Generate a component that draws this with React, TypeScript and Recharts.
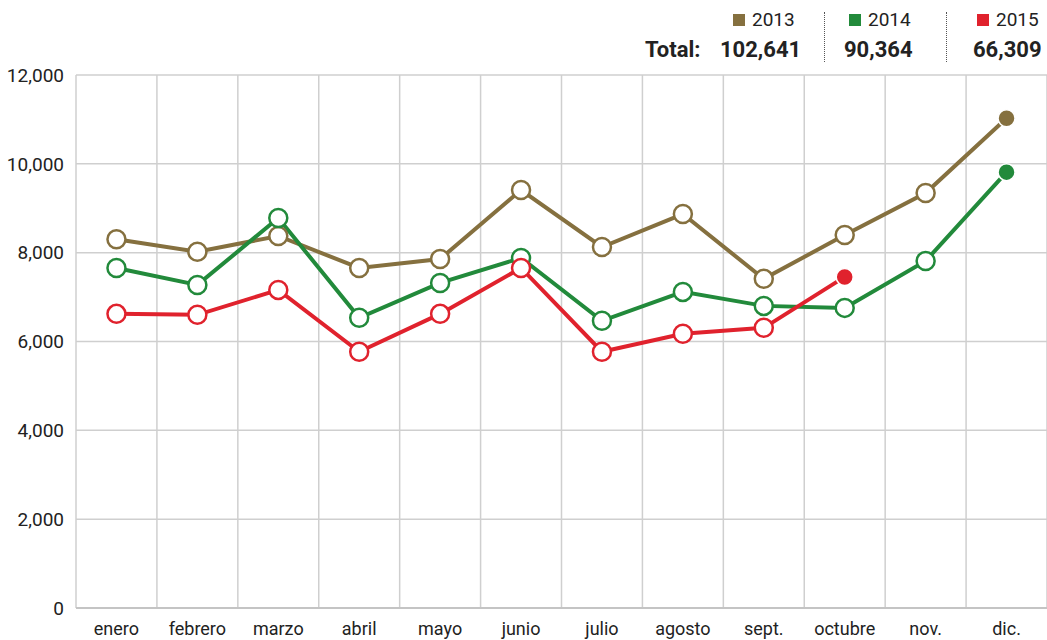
import React from 'react';
import { LineChart, Line, XAxis, YAxis, CartesianGrid } from 'recharts';

const months = ['enero', 'febrero', 'marzo', 'abril', 'mayo', 'junio', 'julio', 'agosto', 'sept.', 'octubre', 'nov.', 'dic.'];
const s2013 = [8300, 8020, 8375, 7656, 7858, 9410, 8128, 8870, 7410, 8398, 9342, 11027];
const s2014 = [7656, 7274, 8780, 6533, 7319, 7881, 6465, 7117, 6802, 6757, 7813, 9813];
const s2015 = [6622, 6600, 7162, 5769, 6622, 7656, 5769, 6173, 6308, 7454, null, null];
const yTicks = [0, 2000, 4000, 6000, 8000, 10000, 12000];
const totals = { y2013: '102,641', y2014: '90,364', y2015: '66,309' };

const COLORS = { y2013: '#85703f', y2014: '#228a3b', y2015: '#e0222d' };
const FONT = 'Roboto, "Noto Sans", sans-serif';

const data = months.map((m, i) => ({
  pos: i + 0.5,
  month: m,
  y2013: s2013[i],
  y2014: s2014[i],
  y2015: s2015[i],
}));

const lastIndex = (arr: (number | null)[]) => {
  let k = -1;
  arr.forEach((v, i) => {
    if (v != null) k = i;
  });
  return k;
};

const makeDot = (color: string, series: (number | null)[]) => {
  const last = lastIndex(series);
  return (props: any) => {
    const { cx, cy, index, value } = props;
    if (value == null || cx == null || cy == null) return <g key={`d-${index}`} />;
    if (index === last) {
      return <circle key={`d-${index}`} cx={cx} cy={cy} r={8.5} fill={color} stroke="#fff" strokeWidth={1.5} />;
    }
    return <circle key={`d-${index}`} cx={cx} cy={cy} r={9} fill="#fff" stroke={color} strokeWidth={2.5} />;
  };
};

// band edges, used only for the vertical grid lines
const gridTicks = months.map((_, i) => i).concat([months.length]);

function Legend() {
  const year = { position: 'absolute' as const, top: 8, fontSize: 19, color: '#222', fontFamily: FONT, lineHeight: '24px' };
  const total = { position: 'absolute' as const, top: 36, fontSize: 22, fontWeight: 700, color: '#222', fontFamily: FONT, lineHeight: '28px' };
  const sq = (c: string) => (
    <span style={{ display: 'inline-block', width: 12, height: 12, background: c, marginRight: 7, verticalAlign: 0 }} />
  );
  const sep = { position: 'absolute' as const, top: 12, height: 50, width: 0, borderLeft: '1.5px dotted #555' };
  return (
    <>
      <div style={{ ...year, left: 733 }}>{sq(COLORS.y2013)}2013</div>
      <div style={{ ...year, left: 849 }}>{sq(COLORS.y2014)}2014</div>
      <div style={{ ...year, left: 977 }}>{sq(COLORS.y2015)}2015</div>
      <div style={{ ...total, left: 645 }}>Total:</div>
      <div style={{ ...total, left: 720 }}>{totals.y2013}</div>
      <div style={{ ...total, left: 844 }}>{totals.y2014}</div>
      <div style={{ ...total, left: 973 }}>{totals.y2015}</div>
      <div style={{ ...sep, left: 824 }} />
      <div style={{ ...sep, left: 946 }} />
    </>
  );
}

export default function App() {
  return (
    <div style={{ position: 'absolute', left: 0, top: 0, width: 1047, height: 640, background: '#fff', overflow: 'hidden' }}>
      <LineChart width={1047} height={640} data={data} margin={{ top: 75, right: 0, bottom: 0, left: 0 }}>
        <XAxis xAxisId="grid" orientation="top" type="number" dataKey="pos" domain={[0, 12]} ticks={gridTicks} height={0} hide />
        <XAxis
          xAxisId="main"
          type="number"
          dataKey="pos"
          domain={[0, 12]}
          ticks={data.map((d) => d.pos)}
          tickFormatter={(v: number) => months[Math.floor(v)]}
          interval={0}
          height={32}
          axisLine={{ stroke: '#c4c4c4', strokeWidth: 2 }}
          tickLine={false}
          tickMargin={8}
          tick={{ fontSize: 18, fill: '#222', fontFamily: FONT }}
        />
        <YAxis
          domain={[0, 12000]}
          ticks={yTicks}
          width={76}
          axisLine={false}
          tickLine={false}
          tickMargin={6}
          tickFormatter={(v: number) => v.toLocaleString('en-US')}
          tick={{ fontSize: 19, fill: '#222', fontFamily: FONT }}
        />
        <CartesianGrid xAxisId="grid" stroke="#cfcfcf" strokeWidth={1.5} />
        <Line xAxisId="main" dataKey="y2013" stroke={COLORS.y2013} strokeWidth={4} dot={makeDot(COLORS.y2013, s2013)} isAnimationActive={false} />
        <Line xAxisId="main" dataKey="y2014" stroke={COLORS.y2014} strokeWidth={4} dot={makeDot(COLORS.y2014, s2014)} isAnimationActive={false} />
        <Line xAxisId="main" dataKey="y2015" stroke={COLORS.y2015} strokeWidth={4} dot={makeDot(COLORS.y2015, s2015)} isAnimationActive={false} />
      </LineChart>
      <Legend />
    </div>
  );
}
